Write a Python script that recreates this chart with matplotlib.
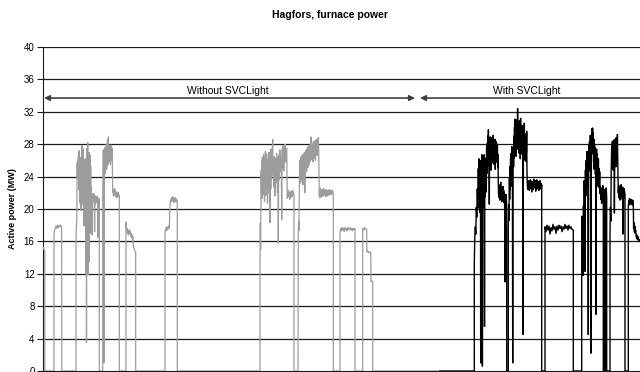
import matplotlib
matplotlib.use("Agg")
import matplotlib.pyplot as plt

plt.rcParams['font.family'] = ['Liberation Sans', 'DejaVu Sans']

title = "Hagfors, furnace power"
ylabel = "Active power (MW)"
yticks = [0, 4, 8, 12, 16, 20, 24, 28, 32, 36, 40]
label_without = "Without SVCLight"
label_with = "With SVCLight"

# (time sample, MW) -- period without SVCLight
gray_samples = [
    (0, 15.3), (1, 15.0), (1.8, 14.8), (1.8, 0),
    (11, 0), (11, 16.8), (11.5, 17.4), (12.3, 17.6), (13, 17.9), (13.8, 17.6), (14.6, 18.0), (15.4, 17.7),
    (16.2, 18.0), (17, 17.8), (17.8, 18.0), (18.6, 17.7), (18.8, 0),
    (33, 0), (33, 16.4), (33.4, 17.8), (33.8, 18.6), (34.2, 25.7), (34.5, 23.8), (34.8, 26.0), (35.1, 24.1),
    (35.4, 26.6), (35.7, 22.4), (36, 27.2), (36.3, 23.6), (36.6, 25.4), (36.9, 20.8), (37.2, 26.1), (37.5, 22.9),
    (37.8, 26.4), (38.1, 19.8), (38.4, 25.2), (38.7, 22.1), (39, 27.8), (39.3, 20.6), (39.6, 26.3), (39.9, 23.0),
    (40.2, 27.4), (40.5, 21.5), (40.8, 25.8), (41.1, 17.9), (41.4, 24.9), (41.7, 21.0), (42, 26.2), (42.3, 19.5),
    (42.6, 25.0), (42.9, 12.0), (43.2, 22.8), (43.5, 3.5), (43.8, 18.9), (44.1, 27.5), (44.4, 21.6), (44.7, 28.2),
    (45, 11.9), (45.3, 26.8), (45.6, 20.4), (45.9, 27.0), (46.2, 13.5), (46.5, 25.8), (46.8, 21.4), (47.1, 26.6),
    (47.4, 22.2), (47.7, 25.3), (48, 17.0), (48.3, 22.8), (48.6, 21.2), (48.9, 21.9), (49.2, 16.8), (49.5, 21.6),
    (49.8, 20.9), (50.1, 21.8), (50.4, 21.1), (50.7, 21.9), (51, 21.3), (51.3, 21.7), (51.6, 17.2), (51.9, 21.5),
    (52.2, 20.6), (52.5, 21.6), (52.8, 21.0), (53.1, 21.4), (53.4, 20.8), (53.7, 21.5), (54.1, 20.9), (54.5, 21.6),
    (54.9, 16.5), (55.3, 21.2), (55.7, 20.7), (56.3, 21.3), (56.3, 0),
    (59.7, 0), (59.7, 20.3), (60, 24.5), (60.3, 27.3), (60.6, 22.8), (60.9, 1.0), (61.2, 24.0), (61.5, 26.8),
    (61.8, 25.1), (62.1, 27.6), (62.4, 24.4), (62.7, 26.9), (63, 25.6), (63.3, 28.0), (63.6, 24.9), (63.9, 27.2),
    (64.2, 26.0), (64.5, 28.5), (64.8, 25.4), (65.1, 27.7), (65.4, 28.9), (65.7, 26.2), (66, 27.9), (66.3, 25.8),
    (66.6, 27.3), (66.9, 26.1), (67.2, 27.8), (67.5, 25.5), (67.8, 27.6), (68.1, 26.4), (68.4, 27.9), (68.7, 26.0),
    (69, 27.5), (69.3, 25.9), (69.7, 22.1), (70.1, 22.4), (70.5, 21.6), (70.9, 22.3), (71.3, 21.8), (71.7, 22.5),
    (72.1, 21.7), (72.5, 22.2), (72.9, 21.5), (73.3, 22.0), (73.7, 21.4), (74.1, 21.9), (74.5, 21.6), (74.9, 22.1),
    (75.3, 21.5), (75.7, 21.8), (76.3, 21.6), (76.3, 0),
    (83, 0), (83, 18.4), (83.4, 17.5), (83.8, 17.2), (84.2, 17.6), (84.6, 17.0), (85, 17.4), (85.4, 16.8),
    (85.8, 17.3), (86.2, 17.1), (86.6, 17.4), (87, 16.9), (87.4, 17.2), (87.8, 16.6), (88.2, 17.0), (88.6, 16.5),
    (89, 16.8), (89.4, 16.3), (89.8, 16.6), (90.2, 15.6), (90.8, 15.3), (91.4, 15.0), (92, 14.8), (92.7, 14.6), (92.7, 0),
    (122, 0), (122, 17.2), (122.5, 17.5), (123, 17.3), (123.5, 17.8), (124, 17.4), (124.5, 17.7), (125, 17.5),
    (125.5, 17.9), (126, 17.6), (126.5, 18.3), (127, 20.5), (127.5, 21.1), (128, 20.9), (128.5, 21.4), (129, 21.0),
    (129.5, 21.5), (130, 21.2), (130.5, 21.4), (131, 20.8), (131.5, 21.3), (132, 21.0), (132.5, 21.4), (133, 20.9),
    (133.5, 21.2), (134.3, 21.0), (134.3, 0),
    (217, 0), (217, 13.5), (217.3, 18.3), (217.6, 15.0), (217.9, 20.0), (218.2, 24.8), (218.5, 22.0), (218.8, 25.9),
    (219.1, 21.3), (219.4, 26.4), (219.7, 23.2), (220, 25.1), (220.3, 21.8), (220.6, 26.7), (220.9, 22.6), (221.2, 25.7),
    (221.5, 20.9), (221.8, 26.2), (222.1, 23.5), (222.4, 27.1), (222.7, 21.7), (223, 25.5), (223.3, 22.9), (223.6, 26.8),
    (223.9, 24.0), (224.2, 25.3), (224.5, 20.7), (224.8, 26.1), (225.1, 22.4), (225.4, 25.8), (225.7, 23.1), (226, 27.0),
    (226.3, 21.9), (226.6, 25.4), (226.9, 18.3), (227.2, 24.6), (227.5, 26.9), (227.8, 22.5), (228.1, 27.4), (228.4, 23.7),
    (228.7, 26.6), (229, 24.2), (229.3, 27.3), (229.7, 28.6), (230, 24.2), (230.3, 26.3), (230.6, 22.8), (230.9, 25.9),
    (231.2, 23.4), (231.5, 26.5), (231.8, 21.6), (232.1, 25.0), (232.4, 22.7), (232.7, 26.2), (233, 23.9), (233.3, 24.1),
    (233.6, 26.9), (233.9, 23.3), (234.2, 25.6), (234.5, 22.0), (234.8, 26.4), (235.1, 24.5), (235.3, 15.8), (235.6, 25.2),
    (235.9, 23.6), (236.2, 26.7), (236.5, 24.8), (236.8, 27.3), (237.1, 25.1), (237.4, 27.0), (237.7, 24.6), (238, 26.2),
    (238.4, 23.9), (238.7, 18.7), (239, 25.7), (239.3, 27.4), (239.6, 25.0), (239.9, 27.8), (240.2, 25.5), (240.5, 27.1),
    (240.8, 24.7), (241.1, 27.6), (241.4, 25.9), (241.7, 27.2), (242, 28.0), (242.3, 26.1), (242.6, 27.5), (242.9, 25.8),
    (243.2, 27.1), (243.7, 27.5), (244.3, 21.3), (244.7, 22.1), (245.1, 21.5), (245.5, 22.3), (245.9, 21.7), (246.3, 22.0),
    (246.7, 21.2), (247.1, 21.9), (247.5, 21.4), (247.9, 22.2), (248.3, 21.6), (248.7, 22.0), (249.1, 21.5), (249.5, 22.3),
    (249.9, 21.8), (250.3, 22.1), (251, 21.7), (251, 0),
    (255, 0), (255, 0.5), (255.3, 17.0), (255.6, 18.5), (255.9, 17.3), (256.3, 22.0), (256.7, 26.0), (257, 23.8),
    (257.3, 25.9), (257.6, 23.2), (257.9, 26.4), (258.2, 24.1), (258.5, 25.7), (258.8, 23.5), (259.1, 26.6), (259.4, 24.4),
    (259.7, 26.0), (260, 23.0), (260.3, 26.8), (260.6, 24.7), (260.9, 26.2), (261.2, 23.9), (261.5, 27.0), (261.8, 22.0),
    (262.1, 26.5), (262.4, 24.9), (262.7, 27.2), (263, 25.3), (263.3, 26.9), (263.6, 24.6), (263.9, 27.4), (264.2, 25.8),
    (264.5, 27.0), (264.8, 25.1), (265.1, 27.7), (265.4, 26.0), (265.7, 27.3), (266, 25.5), (266.3, 27.9), (266.6, 26.2),
    (266.9, 27.5), (267.2, 25.9), (267.6, 28.2), (268, 28.9), (268.3, 26.4), (268.6, 27.8), (268.9, 26.1), (269.2, 28.0),
    (269.5, 26.7), (269.8, 27.6), (270.1, 25.8), (270.4, 28.3), (270.7, 26.5), (271, 27.9), (271.3, 26.3), (271.6, 28.4),
    (271.9, 26.9), (272.2, 27.7), (272.5, 26.0), (272.8, 28.5), (273.1, 26.8), (273.4, 28.1), (273.7, 27.0), (274, 28.6),
    (274.3, 26.6), (274.6, 28.2), (274.9, 27.3), (275.3, 28.8), (275.7, 27.4), (276.3, 21.6), (276.7, 22.3), (277.1, 21.4),
    (277.5, 22.5), (277.9, 21.7), (278.3, 22.1), (278.7, 21.5), (279.1, 22.4), (279.5, 21.8), (279.9, 22.2), (280.3, 21.6),
    (280.7, 22.5), (281.1, 21.9), (281.5, 22.3), (281.9, 21.7), (282.3, 22.0), (282.7, 21.5), (283.1, 22.4), (283.5, 21.8),
    (283.9, 22.1), (284.3, 21.6), (284.7, 22.3), (285.1, 21.9), (285.5, 22.2), (285.9, 21.7), (286.3, 22.4), (286.7, 21.8),
    (287.1, 22.1), (287.5, 21.9), (287.9, 22.3), (288.3, 21.8), (288.7, 22.2), (289.1, 21.9), (289.5, 22.3), (290.3, 22.0), (290.3, 0),
    (297, 0), (297, 17.2), (297.7, 17.6), (298.4, 17.3), (299.1, 17.7), (299.8, 17.4), (300.5, 17.6), (301.2, 17.2),
    (301.9, 17.7), (302.6, 17.5), (303.3, 17.6), (304, 17.3), (304.7, 17.7), (305.4, 17.4), (306.1, 17.6), (306.8, 17.5),
    (307.5, 17.7), (308.2, 17.4), (308.9, 17.6), (309.6, 17.3), (310.3, 17.6), (311, 17.5), (312, 17.6), (312, 0),
    (319.7, 0), (319.7, 17.6), (320.5, 17.4), (321.3, 17.7), (322.1, 17.5), (322.9, 17.6), (323.7, 17.4), (323.9, 14.7),
    (324.7, 14.8), (325.5, 14.6), (326.3, 14.7), (327.1, 14.6), (327.7, 14.7), (328, 11.0), (329, 11.1), (329.7, 11.0),
    (329.7, 0), (397, 0),
]

# (time sample, MW) -- period with SVCLight
black_samples = [
    (397, 0), (431.3, 0), (431.3, 13.3), (431.8, 16.6), (432.3, 17.8), (432.8, 16.9), (433.3, 20.2), (433.8, 19.0),
    (434.3, 22.5), (434.8, 20.1), (435.3, 25.0), (435.7, 21.3), (436.0, 26.2), (436.3, 22.0), (436.6, 25.4), (436.9, 19.6),
    (437.2, 26.0), (437.5, 21.4), (437.7, 1.0), (438.0, 20.8), (438.3, 25.9), (438.6, 22.5), (438.9, 26.7), (439.2, 18.4),
    (439.4, 0.6), (439.7, 21.0), (440.0, 26.4), (440.3, 20.2), (440.6, 25.1), (440.9, 22.7), (441.2, 26.7), (441.5, 5.5),
    (441.8, 24.3), (442.1, 21.5), (442.4, 25.8), (442.7, 23.0), (443.0, 26.3), (443.3, 22.1), (443.6, 27.5), (443.9, 24.4),
    (444.2, 28.1), (444.5, 25.2), (444.8, 29.0), (445.1, 26.1), (445.4, 29.8), (445.7, 26.5), (446.0, 28.6), (446.3, 20.6),
    (446.6, 27.8), (446.9, 25.3), (447.2, 28.9), (447.5, 26.0), (447.8, 28.2), (448.1, 24.8), (448.4, 27.6), (448.7, 26.4),
    (449.0, 28.8), (449.3, 25.7), (449.6, 28.0), (449.9, 26.9), (450.2, 29.1), (450.5, 26.2), (450.8, 28.4), (451.1, 25.5),
    (451.4, 27.9), (451.7, 26.6), (452.0, 28.6), (452.3, 24.9), (452.6, 27.7), (452.9, 26.1), (453.2, 28.3), (453.5, 25.8),
    (453.8, 27.4), (454.1, 26.3), (454.4, 28.0), (454.7, 25.1), (455.0, 26.7), (455.3, 23.2), (455.6, 21.8), (455.9, 23.0),
    (456.2, 21.4), (456.5, 22.7), (456.8, 21.1), (457.1, 22.9), (457.4, 21.6), (457.7, 23.3), (458.0, 21.9), (458.3, 22.5),
    (458.6, 20.9), (458.9, 22.6), (459.2, 21.3), (459.5, 22.2), (459.8, 21.0), (460.1, 22.8), (460.4, 21.5), (460.7, 22.3),
    (461.0, 20.8), (461.3, 22.0), (461.6, 21.4), (462.0, 11.0), (462.4, 21.0), (463.0, 21.8), (463.7, 20.5), (463.7, 0),
    (465.3, 0), (465.3, 17.5), (465.7, 20.5), (466.0, 18.6), (466.4, 23.9), (466.7, 21.2), (467.0, 25.3), (467.3, 22.4),
    (467.6, 26.3), (467.9, 23.6), (468.2, 26.9), (468.5, 24.1), (468.8, 27.7), (469.1, 22.8), (469.4, 26.1), (469.7, 1.0),
    (470.0, 24.6), (470.3, 27.5), (470.6, 25.2), (470.9, 29.0), (471.2, 26.3), (471.5, 30.1), (471.8, 27.0), (472.1, 31.1),
    (472.4, 27.8), (472.7, 29.6), (473.0, 26.5), (473.3, 30.4), (473.6, 27.3), (473.9, 31.0), (474.2, 28.2), (474.6, 32.4),
    (474.9, 28.0), (475.2, 30.7), (475.5, 27.4), (475.8, 29.8), (476.1, 26.9), (476.4, 30.9), (476.7, 27.6), (477.0, 29.5),
    (477.3, 26.2), (477.6, 31.2), (477.9, 27.9), (478.2, 30.0), (478.5, 26.8), (478.8, 29.2), (479.1, 27.1), (479.4, 30.3),
    (479.7, 26.4), (480.1, 4.5), (480.4, 27.8), (480.7, 29.4), (481.0, 26.7), (481.3, 30.6), (481.6, 27.5), (481.9, 29.0),
    (482.2, 26.0), (482.5, 28.7), (482.8, 25.9), (483.1, 29.3), (483.4, 27.0), (483.7, 29.6), (484.0, 24.5), (484.3, 23.0),
    (484.7, 22.4), (485.1, 23.3), (485.5, 22.6), (485.9, 23.5), (486.3, 22.3), (486.7, 23.1), (487.1, 22.7), (487.5, 23.6),
    (487.9, 22.5), (488.3, 23.2), (488.7, 22.1), (489.1, 23.4), (489.5, 22.8), (489.9, 23.0), (490.3, 22.4), (490.7, 23.7),
    (491.1, 22.9), (491.5, 23.3), (491.9, 22.6), (492.3, 23.5), (492.7, 22.2), (493.1, 23.1), (493.5, 22.8), (493.9, 23.6),
    (494.3, 22.5), (494.7, 23.2), (495.1, 22.7), (495.5, 23.4), (495.9, 22.3), (496.3, 23.0), (496.7, 22.6), (497.1, 23.5),
    (497.5, 22.9), (497.9, 23.2), (498.3, 22.4), (498.7, 23.0), (498.7, 0),
    (502, 0), (502, 17.8), (503, 17.2), (504, 18.0), (505, 17.4), (506, 17.9), (507, 16.9), (508, 17.7), (509, 17.3),
    (510, 18.1), (511, 17.5), (512, 17.8), (513, 17.0), (514, 17.9), (515, 17.4), (516, 18.0), (517, 17.6), (518, 17.9),
    (519, 17.2), (520, 17.8), (521, 17.5), (522, 18.1), (523, 17.6), (524, 17.9), (525, 17.4), (526, 18.0), (527, 17.6),
    (528, 17.8), (529, 17.5), (530.3, 17.4), (530.3, 0),
    (538.7, 0), (538.7, 16.6), (539.1, 19.1), (539.5, 17.0), (540.0, 11.8), (540.4, 20.4), (540.8, 18.2), (541.2, 23.5),
    (541.6, 20.1), (542.0, 12.3), (542.4, 24.8), (542.8, 21.6), (543.2, 26.0), (543.6, 22.9), (544.0, 27.1), (544.4, 23.8),
    (544.8, 26.5), (545.3, 4.5), (545.7, 27.8), (546.1, 24.7), (546.5, 28.3), (546.9, 25.9), (547.3, 29.1), (547.7, 26.4),
    (548.0, 2.2), (548.4, 27.5), (548.8, 29.9), (549.2, 26.8), (549.6, 30.0), (549.9, 27.2), (550.3, 29.4), (550.6, 25.8),
    (550.9, 28.6), (551.2, 24.9), (551.5, 28.0), (551.8, 25.5), (552.1, 27.6), (552.4, 24.3), (552.7, 26.9), (553.0, 7.0),
    (553.3, 25.1), (553.6, 27.4), (553.9, 24.0), (554.2, 26.8), (554.5, 23.6), (554.8, 25.9), (555.1, 22.8), (555.4, 26.2),
    (555.7, 23.4), (556.0, 25.0), (556.3, 22.6), (556.7, 24.6), (557.0, 21.9), (557.4, 22.8), (557.8, 21.2), (558.2, 22.6),
    (558.6, 20.7), (559.0, 22.3), (559.4, 21.0), (559.8, 22.9), (560.3, 21.5), (560.3, 0), (560.8, 0), (560.8, 21.8),
    (561.2, 20.9), (561.6, 22.4), (562.0, 21.3), (562.0, 0), (562.4, 0), (562.4, 22.0), (562.8, 21.1), (563.2, 22.6),
    (563.7, 21.4), (563.7, 0),
    (567, 0), (567, 16.9), (567.4, 20.2), (567.8, 18.5), (568.2, 24.6), (568.7, 27.7), (569.0, 25.1), (569.3, 28.3),
    (569.6, 25.6), (569.9, 27.9), (570.2, 24.8), (570.5, 28.5), (570.8, 25.3), (571.1, 27.4), (571.4, 19.5), (571.7, 26.1),
    (572.0, 28.6), (572.3, 25.9), (572.6, 27.8), (572.9, 25.2), (573.2, 28.8), (573.5, 26.4), (573.8, 28.1), (574.1, 25.7),
    (574.4, 29.2), (574.7, 26.3), (575.0, 24.0), (575.3, 22.0), (575.7, 22.9), (576.1, 21.4), (576.5, 22.6), (576.9, 21.1),
    (577.3, 22.8), (577.7, 21.5), (578.1, 23.0), (578.5, 21.7), (578.9, 22.4), (579.3, 21.2), (579.7, 22.7), (580.1, 16.9),
    (580.5, 22.1), (580.9, 21.4), (581.3, 22.5), (582.0, 21.8), (582.0, 0),
    (585.3, 0), (585.3, 20.2), (585.7, 21.0), (586.1, 20.5), (586.5, 21.3), (586.9, 20.7), (587.3, 21.1), (587.7, 20.6),
    (588.1, 21.2), (588.5, 20.8), (588.9, 21.0), (589.3, 20.5), (589.7, 21.1), (590.3, 20.7), (590.6, 17.6), (591.0, 18.3),
    (591.4, 17.2), (591.8, 17.9), (592.2, 17.0), (592.6, 17.4), (593.0, 16.9), (593.4, 16.5), (593.8, 16.8), (594.2, 16.3),
    (594.6, 16.6), (595.0, 16.2), (595.4, 16.5), (595.8, 16.0), (596.2, 16.2), (597, 16.0),
]

gray_t = [p[0] for p in gray_samples]
gray_mw = [p[1] for p in gray_samples]
black_t = [p[0] for p in black_samples]
black_mw = [p[1] for p in black_samples]

fig = plt.figure(figsize=(6.4, 3.72), dpi=100)
ax = fig.add_axes([43 / 640, 1 / 372, 597 / 640, 324 / 372])

for y in yticks[1:]:
    ax.axhline(y, color='#1a1a1a', lw=0.9, zorder=1)

ax.plot(gray_t, gray_mw, color='#9c9c9c', lw=0.9, zorder=3)
ax.plot(black_t, black_mw, color='black', lw=1.0, zorder=3)

ax.set_xlim(0, 597)
ax.set_ylim(0, 40)
ax.set_yticks(yticks)
ax.set_yticklabels([str(v) for v in yticks], fontsize=7)
ax.tick_params(axis='y', length=4, width=0.8, pad=2, color='#1a1a1a')
ax.set_xticks([])
for s in ['top', 'right']:
    ax.spines[s].set_visible(False)
ax.spines['left'].set_color('#1a1a1a')
ax.spines['bottom'].set_color('#1a1a1a')

ax.set_ylabel(ylabel, fontsize=6.5, fontweight='bold')
ax.yaxis.set_label_coords(-0.0435, 0.5)

arrow_y = 33.7
ax.annotate('', xy=(372, arrow_y), xytext=(1, arrow_y),
            arrowprops=dict(arrowstyle='<|-|>', color='#404040', lw=1.2, mutation_scale=8,
                            shrinkA=0, shrinkB=0), annotation_clip=False)
ax.annotate('', xy=(377, arrow_y), xytext=(610, arrow_y),
            arrowprops=dict(arrowstyle='-|>', color='#404040', lw=1.2, mutation_scale=8,
                            shrinkA=0, shrinkB=0), annotation_clip=False)
ax.text(185, 34.2, label_without, fontsize=7.5, ha='center', va='baseline')
ax.text(484, 34.2, label_with, fontsize=7.5, ha='center', va='baseline')

fig.text(330 / 640, 1 - 15 / 372, title, fontsize=7.5, fontweight='bold', ha='center', va='center')

fig.savefig('out.png', dpi=100)
